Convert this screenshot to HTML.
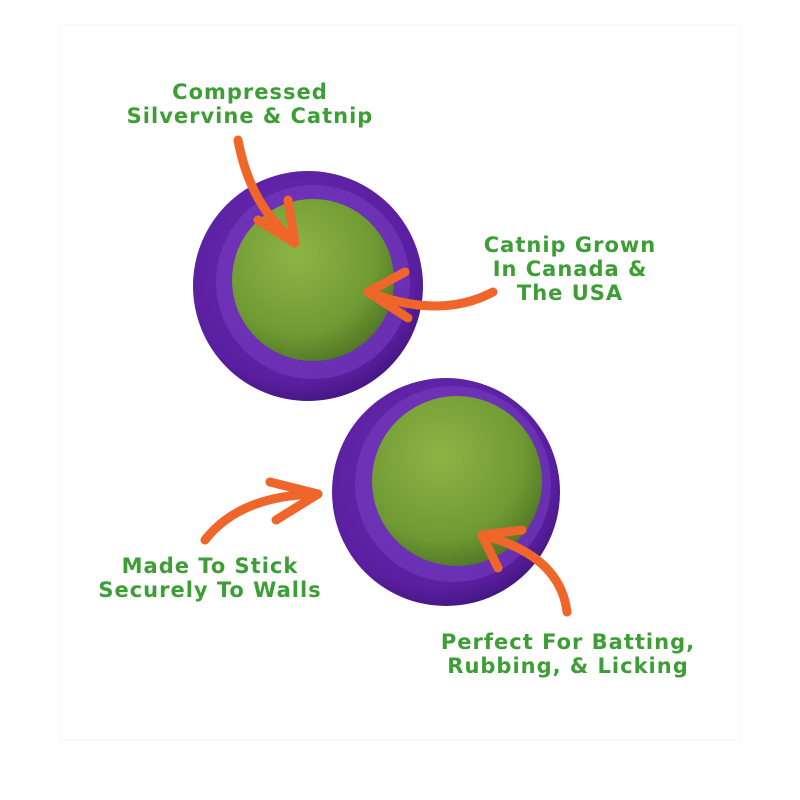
<!DOCTYPE html>
<html><head><meta charset="utf-8"><style>
html,body{margin:0;padding:0;background:#fff;}
.wrap{position:relative;width:800px;height:800px;overflow:hidden;background:#fff;}
.t{position:absolute;font-family:"DejaVu Sans","Liberation Sans",sans-serif;font-weight:bold;color:#3d9e35;font-size:21px;line-height:24px;text-align:center;letter-spacing:1px;white-space:nowrap;transform:translateX(-50%);}
</style></head><body><div class="wrap">
<svg width="800" height="800" style="position:absolute;left:0;top:0">
<defs>
<radialGradient id="g" cx="40%" cy="35%" r="70%"><stop offset="0" stop-color="#8fb445"/><stop offset="0.7" stop-color="#6f9a33"/><stop offset="1" stop-color="#4f7424"/></radialGradient>
<radialGradient id="p" cx="45%" cy="40%" r="65%"><stop offset="0" stop-color="#6a2cb0"/><stop offset="0.8" stop-color="#5a1fa0"/><stop offset="1" stop-color="#3e1378"/></radialGradient>
</defs>
<rect x="60" y="25" width="680" height="715" fill="none" stroke="#f4f4f4"/>
<circle cx="308" cy="286" r="115" fill="url(#p)"/>
<circle cx="313" cy="282" r="97" fill="#7a3fc4" opacity="0.5"/>
<circle cx="313" cy="280" r="81" fill="url(#g)"/>
<circle cx="446" cy="492" r="114" fill="url(#p)"/>
<circle cx="453" cy="484" r="98" fill="#7a3fc4" opacity="0.5"/>
<circle cx="457" cy="481" r="85" fill="url(#g)"/>
<g stroke="#f0652a" stroke-width="9" fill="none" stroke-linecap="round" stroke-linejoin="round">
<path d="M238 140 Q250 205 293 240"/>
<path d="M258 220 L295 243 L288 200"/>
<path d="M493 292 Q440 320 368 292"/>
<path d="M405 272 L368 292 L408 318"/>
<path d="M205 540 Q240 495 318 494"/>
<path d="M270 482 L318 494 L276 520"/>
<path d="M567 612 Q560 555 482 535"/>
<path d="M498 568 L482 535 L522 530"/>
</g>
</svg>
<div class="t" style="left:250px;top:80px">Compressed<br>Silvervine &amp; Catnip</div>
<div class="t" style="left:570px;top:233px">Catnip Grown<br>In Canada &amp;<br>The USA</div>
<div class="t" style="left:210px;top:554px">Made To Stick<br>Securely To Walls</div>
<div class="t" style="left:568px;top:630px">Perfect For Batting,<br>Rubbing, &amp; Licking</div>
</div></body></html>
